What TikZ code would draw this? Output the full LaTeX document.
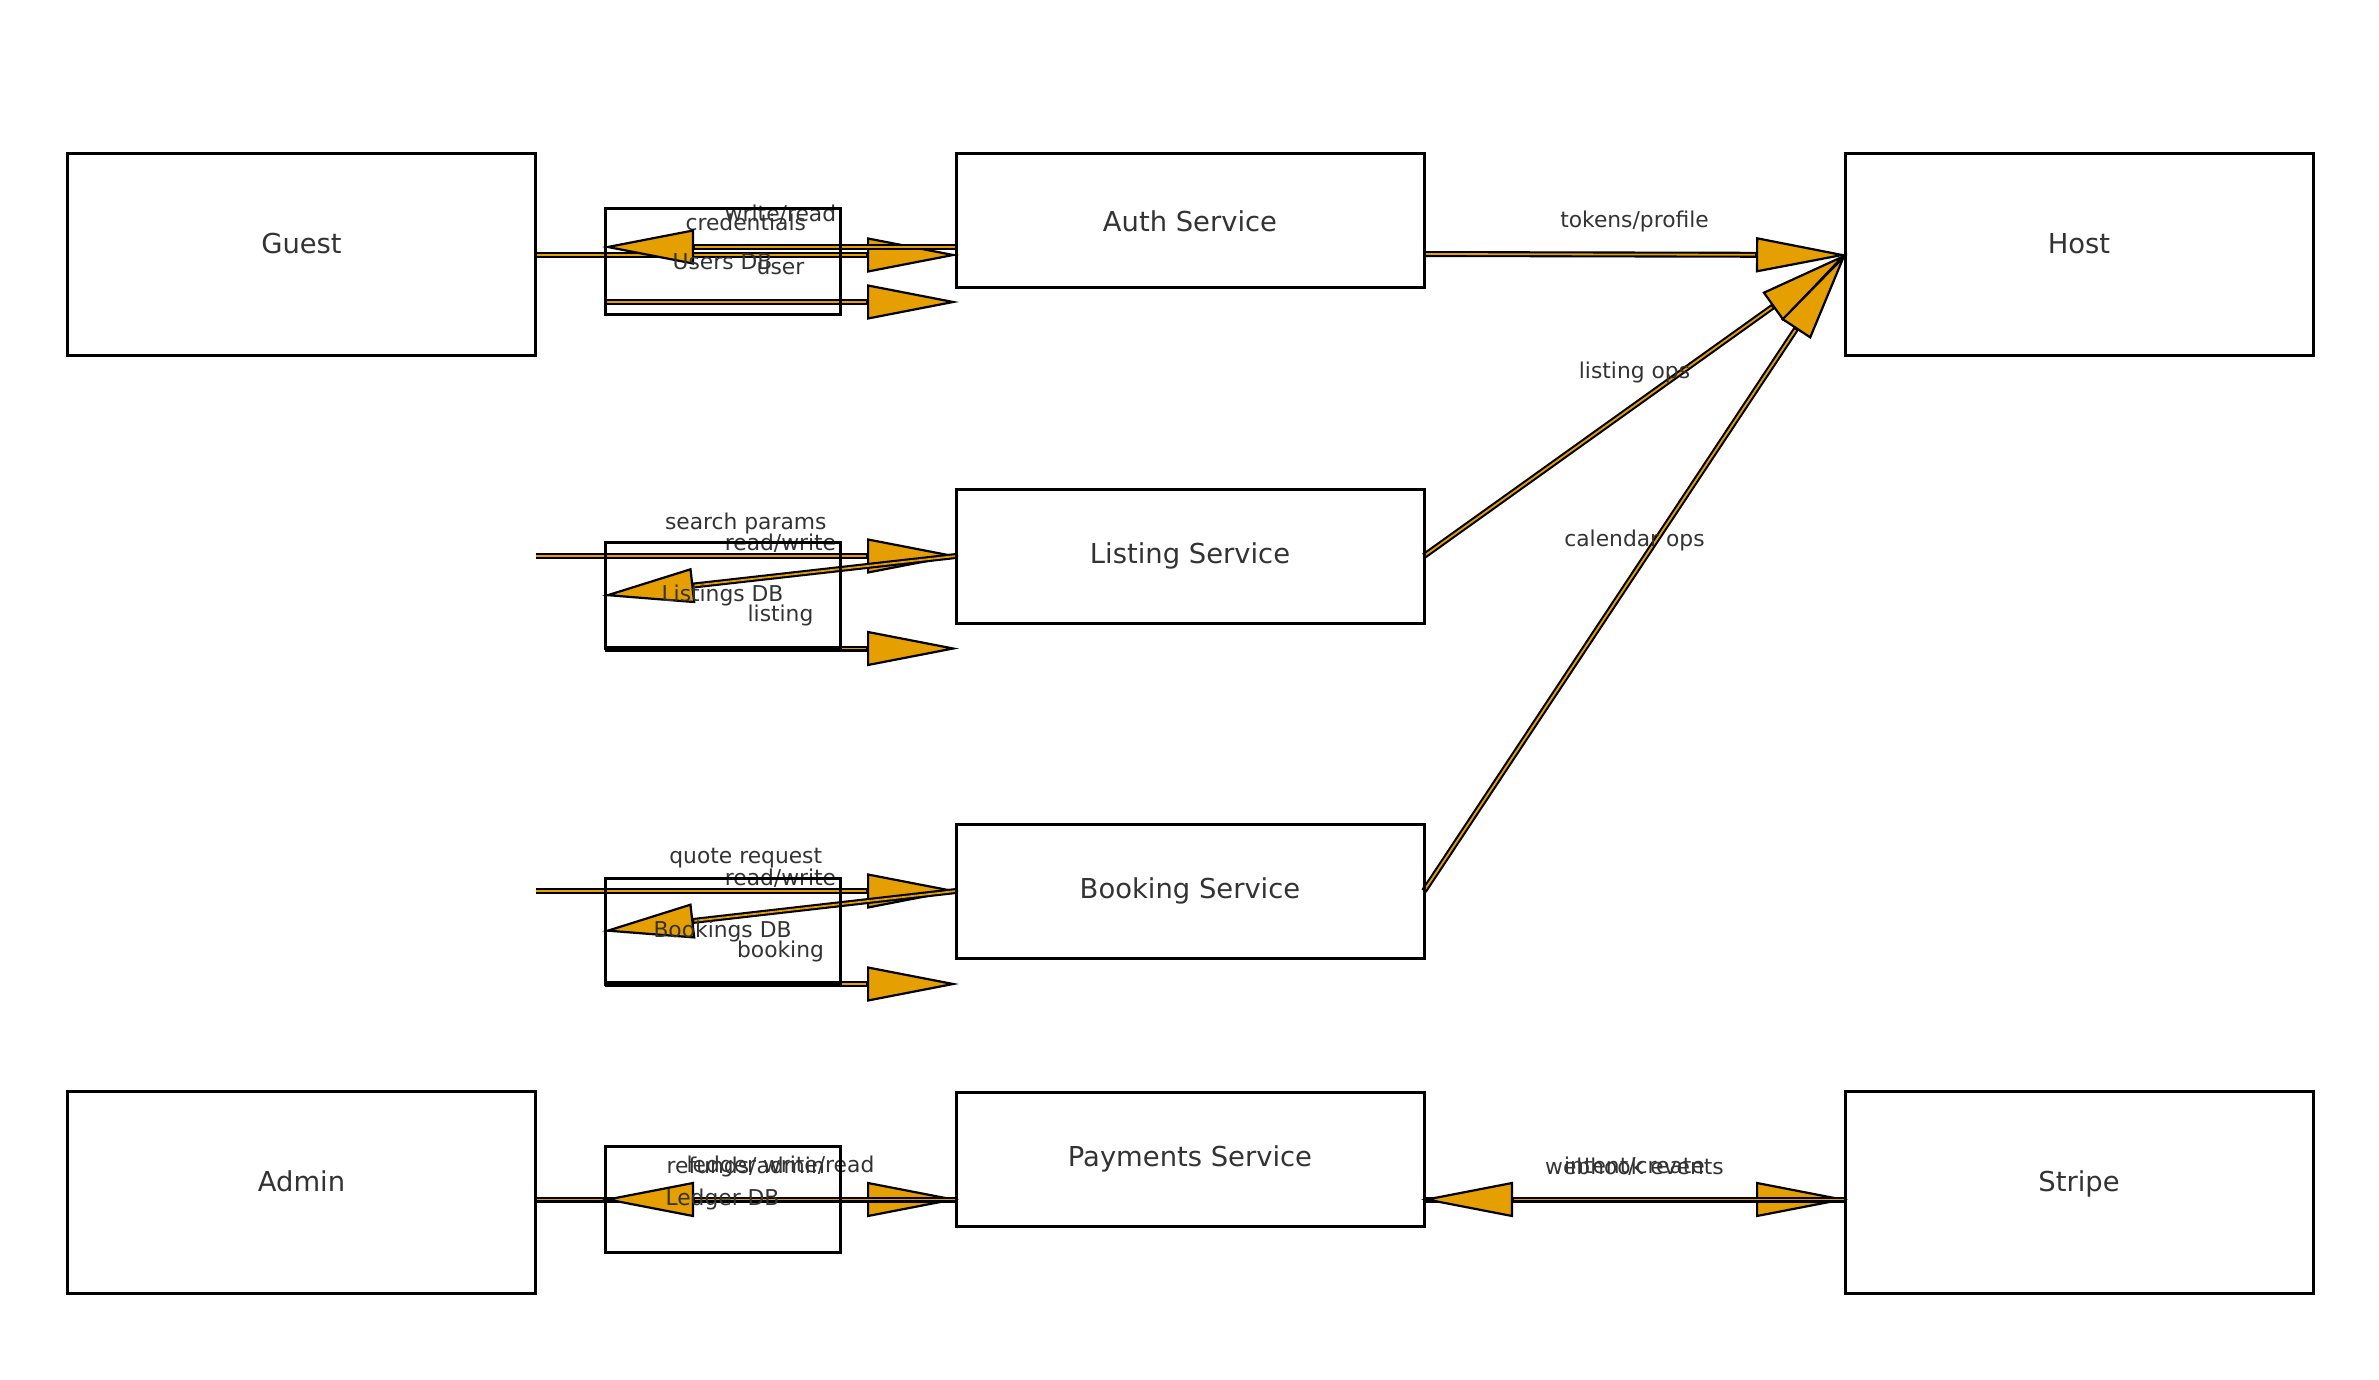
\documentclass[tikz,border=0pt]{standalone}
\usepackage{fontspec}
\setmainfont{DejaVu Sans}
\usetikzlibrary{arrows.meta}
\definecolor{orng}{HTML}{E69F00}
\definecolor{txt}{HTML}{333333}
\pgfdeclarelayer{edges}
\pgfsetlayers{edges,main}
\tikzset{
  box/.style={draw=black, line width=1.5pt, rectangle, outer sep=0pt, inner sep=0pt,
    text=txt, font=\fontsize{13.7}{16}\selectfont, minimum width=234pt},
  svc/.style={box, minimum height=67pt},
  actor/.style={box, minimum height=101pt, text height=10pt, text depth=11pt},
  store/.style={box, minimum width=117.5pt, minimum height=53pt, font=\fontsize{10.9}{13}\selectfont},
  conn/.style={draw=black, line width=3pt, shorten >=-1.5pt,
    -{Triangle[length=46pt,width=17.5pt,line width=1.1pt,fill=orng]},
    postaction={draw=orng, line width=0.9pt, -, shorten >=45pt}},
  elab/.style={midway, yshift=16.5pt, text=txt, inner sep=0pt, font=\fontsize{10.9}{13}\selectfont},
}
\begin{document}
\begin{tikzpicture}[x=0.5pt,y=-0.5pt]
\useasboundingbox (0,0) rectangle (2379,1380);
% nodes
\node[actor] (guest) at (301.5,255) {Guest};
\node[svc] (auth) at (1190,221) {Auth Service};
\node[actor] (host) at (2079,255) {Host};
\node[store] (usersdb) at (722.5,261.5) {Users DB};
\node[svc] (listing) at (1190,556) {Listing Service};
\node[store] (listingsdb) at (722.5,595.5) {Listings DB};
\node[svc] (booking) at (1190,891) {Booking Service};
\node[store] (bookingsdb) at (722.5,931) {Bookings DB};
\node[actor] (admin) at (301.5,1192.5) {Admin};
\node[svc] (payments) at (1190,1159) {Payments Service};
\node[store] (ledgerdb) at (722.5,1199.5) {Ledger DB};
\node[actor] (stripe) at (2079,1192.5) {Stripe};
\coordinate (sp) at (guest.east |- listing.west);
\coordinate (qr) at (guest.east |- booking.west);
\begin{pgfonlayer}{edges}
\draw[conn] (guest.east) -- (auth.west |- guest.east) node[elab]{credentials};
\draw[conn] ([yshift=-13pt]auth.west) -- ([yshift=7.25pt]usersdb.west) node[elab]{write/read};
\draw[conn] ([yshift=-20.25pt]usersdb.west) -- ([yshift=-40.5pt]auth.west) node[elab]{user};
\draw[conn] ([yshift=-16.5pt]auth.east) -- (host.west) node[elab]{tokens/profile};
\draw[conn] (sp) -- (listing.west) node[elab]{search params};
\draw[conn] (listing.west) -- (listingsdb.west) node[elab]{read/write};
\draw[conn] (listingsdb.south west) -- (listing.west |- listingsdb.south west) node[elab]{listing};
\draw[conn] (qr) -- (booking.west) node[elab]{quote request};
\draw[conn] (booking.west) -- (bookingsdb.west) node[elab]{read/write};
\draw[conn] (bookingsdb.south west) -- (booking.west |- bookingsdb.south west) node[elab]{booking};
\draw[conn] (listing.east) -- (host.west) node[elab]{listing ops};
\draw[conn] (booking.east) -- (host.west) node[elab]{calendar ops};
\draw[conn] (admin.east |- ledgerdb.west) -- (payments.west |- ledgerdb.west) node[elab]{refunds/admin};
\draw[conn] (payments.west |- ledgerdb.west) -- (ledgerdb.west) node[elab]{ledger write/read};
\draw[conn] (payments.east |- ledgerdb.west) -- (stripe.west |- ledgerdb.west) node[elab]{intent/create};
\draw[conn] (stripe.west |- ledgerdb.west) -- (payments.east |- ledgerdb.west) node[elab]{webhook events};
\end{pgfonlayer}
\end{tikzpicture}
\end{document}
